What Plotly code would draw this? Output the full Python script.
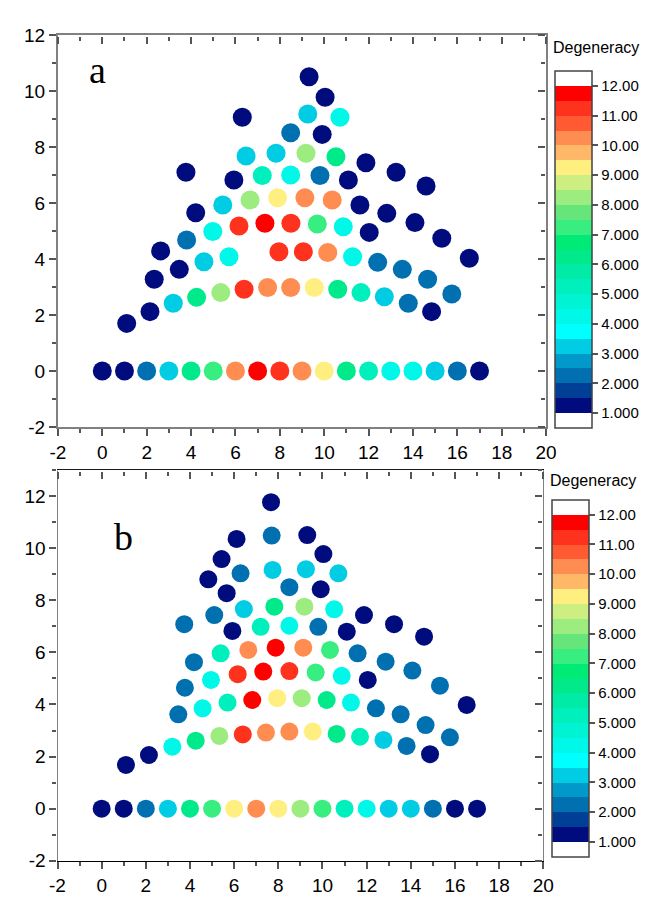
import plotly.graph_objects as go

# panel a points (x, y, degeneracy)
a_x = [9.32, 10.04, 6.31, 9.26, 10.71, 8.49, 9.91, 6.48, 7.83, 9.18, 10.53, 11.88, 13.24, 14.59,
       3.77, 5.93, 7.21, 8.49, 9.81, 11.09, 5.43, 6.66, 7.90, 9.13, 10.36, 11.61, 12.82, 14.09,
       15.30, 16.54, 4.21, 4.98, 6.16, 7.33, 8.50, 9.69, 10.86, 12.03, 3.80, 2.63,
       2.34, 3.47, 4.58, 5.71, 7.96, 9.06, 10.16, 11.28, 12.41, 13.52, 14.66, 15.75,
       1.10, 2.15, 3.20, 4.25, 5.34, 6.39, 7.45, 8.49, 9.55, 10.61, 11.66, 12.71, 13.79, 14.84,
       0, 1, 2, 3, 4, 5, 6, 7, 8, 9, 10, 11, 12, 13, 14, 15, 16, 17]
a_y = [10.51, 9.78, 9.06, 9.18, 9.06, 8.51, 8.45, 7.68, 7.78, 7.78, 7.65, 7.44, 7.10, 6.61,
       7.10, 6.82, 6.98, 7.00, 6.98, 6.82, 5.93, 6.11, 6.19, 6.19, 6.11, 5.93, 5.63, 5.30,
       4.74, 4.03, 5.65, 4.98, 5.18, 5.28, 5.28, 5.25, 5.15, 4.95, 4.68, 4.29,
       3.28, 3.63, 3.90, 4.08, 4.26, 4.26, 4.23, 4.08, 3.88, 3.63, 3.28, 2.75,
       1.70, 2.12, 2.42, 2.63, 2.80, 2.92, 2.98, 2.98, 2.98, 2.92, 2.80, 2.65, 2.42, 2.12,
       0, 0, 0, 0, 0, 0, 0, 0, 0, 0, 0, 0, 0, 0, 0, 0, 0, 0]
a_deg = [1, 1, 1, 3, 4, 2, 1, 3, 3, 8, 6, 1, 1, 1,
         1, 1, 5, 4, 2, 1, 3, 8, 9, 10, 10, 1, 1, 1,
         1, 1, 1, 4, 11, 12, 11, 7, 4, 1, 2, 1,
         1, 1, 3, 4, 11, 11, 10, 4, 2, 2, 2, 2,
         1, 1, 3, 6, 8, 11, 10, 10, 9, 6, 5, 3, 2, 1,
         1, 1, 2, 3, 6, 7, 10, 12, 11, 10, 9, 6, 5, 4, 4, 3, 2, 1]

# panel b points
b_x = [7.67, 7.70, 6.11, 9.31, 10.04, 5.43, 6.29, 7.74, 9.25, 10.72, 4.83, 5.66, 8.50, 9.92,
       3.74, 5.10, 6.44, 7.82, 9.18, 10.53, 11.88, 13.24, 14.60, 5.92, 7.20, 8.50, 9.81, 11.10,
       4.18, 5.39, 6.64, 7.88, 9.13, 10.34, 11.59, 12.86, 14.07, 15.32, 16.53,
       3.77, 4.95, 6.16, 7.32, 8.50, 9.69, 10.87, 12.05,
       3.47, 4.57, 5.70, 6.82, 7.95, 9.06, 10.19, 11.29, 12.42, 13.54, 14.67, 15.77,
       1.10, 2.14, 3.20, 4.26, 5.33, 6.39, 7.44, 8.50, 9.56, 10.64, 11.70, 12.76, 13.81, 14.87,
       0, 1, 2, 3, 4, 5, 6, 7, 8, 9, 10, 11, 12, 13, 14, 15, 16, 17]
b_y = [11.76, 10.48, 10.35, 10.50, 9.77, 9.58, 9.03, 9.16, 9.19, 9.03, 8.80, 8.27, 8.50, 8.42,
       7.08, 7.43, 7.66, 7.75, 7.75, 7.65, 7.43, 7.08, 6.60, 6.82, 6.98, 7.02, 6.98, 6.79,
       5.62, 5.96, 6.09, 6.18, 6.18, 6.09, 5.96, 5.64, 5.30, 4.72, 3.98,
       4.64, 4.94, 5.16, 5.26, 5.28, 5.23, 5.10, 4.94,
       3.62, 3.85, 4.07, 4.17, 4.24, 4.24, 4.17, 4.07, 3.85, 3.62, 3.21, 2.74,
       1.68, 2.06, 2.38, 2.61, 2.79, 2.85, 2.92, 2.96, 2.96, 2.87, 2.76, 2.64, 2.41, 2.09,
       0, 0, 0, 0, 0, 0, 0, 0, 0, 0, 0, 0, 0, 0, 0, 0, 0, 0]
b_deg = [1, 2, 1, 1, 1, 1, 2, 3, 3, 3, 1, 1, 2, 1,
         2, 2, 3, 6, 8, 4, 1, 1, 1, 1, 5, 4, 2, 1,
         2, 5, 10, 12, 10, 7, 2, 2, 2, 2, 1,
         2, 4, 11, 12, 11, 7, 4, 1,
         2, 4, 5, 12, 9, 8, 6, 4, 2, 2, 2, 2,
         1, 1, 4, 6, 8, 11, 10, 10, 9, 6, 5, 3, 2, 1,
         1, 1, 2, 3, 6, 7, 9, 10, 9, 8, 7, 5, 4, 3, 3, 2, 1, 1]

x_ticks = [-2, 0, 2, 4, 6, 8, 10, 12, 14, 16, 18, 20]
y_ticks = [-2, 0, 2, 4, 6, 8, 10, 12]

# colour bands of the legend, 1.0 to 12.0 in steps of 0.5
band_colors = ['#000c7d', '#003f96', '#0070b0', '#0099c9', '#00cce3', '#00ffff',
               '#00f8e8', '#00f4d4', '#00f0bd', '#00eca6', '#00ea8c', '#00eb76',
               '#38ee80', '#66e67a', '#9cec80', '#cdee80', '#ffee80', '#ffb868',
               '#ff8c50', '#ff5a32', '#ff321e', '#ff0000']
cbar_ticks = [1, 2, 3, 4, 5, 6, 7, 8, 9, 10, 11, 12]
cbar_text = ['1.000', '2.000', '3.000', '4.000', '5.000', '6.000', '7.000', '8.000',
             '9.000', '10.00', '11.00', '12.00']

# colorbar scale: white, 22 bands, white over 0.5..12.5
segs = ['#ffffff'] + band_colors + ['#ffffff']
cbar_scale = []
for i, c in enumerate(segs):
    cbar_scale.append([i / len(segs), c])
    cbar_scale.append([(i + 1) / len(segs), c])

# dot scale: integer value v -> band starting at v (12 -> top band)
dot_scale = []
for v in range(1, 13):
    c = band_colors[min(2 * (v - 1), 21)]
    dot_scale.append([(v - 1) / 12, c])
    dot_scale.append([v / 12, c])

FONT = 'Liberation Sans, Arial, sans-serif'
SERIF = 'Liberation Serif, Times New Roman, serif'

# page has an 8px body margin, figure is 656x907 inside the 664x915 window
W, H = 656, 907


def px(x):
    return (x - 8) / W


def py(y):
    return 1 - (y - 8) / H


fig = go.Figure()

fig.add_trace(go.Scatter(x=a_x, y=a_y, mode='markers', xaxis='x', yaxis='y',
                         marker=dict(size=19, color=a_deg, colorscale=dot_scale,
                                     cmin=0.5, cmax=12.5, line=dict(width=0)),
                         showlegend=False))
fig.add_trace(go.Scatter(x=b_x, y=b_y, mode='markers', xaxis='x2', yaxis='y2',
                         marker=dict(size=18, color=b_deg, colorscale=dot_scale,
                                     cmin=0.5, cmax=12.5, line=dict(width=0)),
                         showlegend=False))


def cbar(xpos, ypos):
    return dict(x=xpos, xanchor='left', y=ypos, yanchor='middle', xpad=0, ypad=0,
                thickness=37, thicknessmode='pixels', len=357, lenmode='pixels',
                outlinecolor='#444', outlinewidth=1.5,
                tickvals=cbar_ticks, ticktext=cbar_text, ticks='outside', ticklen=6,
                tickwidth=1.5, tickcolor='#555',
                tickfont=dict(family=FONT, size=15, color='black'))


# colour legends (empty traces on the tick-strip subplots)
fig.add_trace(go.Scatter(x=[None], y=[None], mode='markers', xaxis='x3', yaxis='y3',
                         marker=dict(color=[1], colorscale=cbar_scale, cmin=0.5, cmax=12.5,
                                     showscale=True, colorbar=cbar(px(555), py(249.4))),
                         showlegend=False, hoverinfo='skip'))
fig.add_trace(go.Scatter(x=[None], y=[None], mode='markers', xaxis='x4', yaxis='y4',
                         marker=dict(color=[1], colorscale=cbar_scale, cmin=0.5, cmax=12.5,
                                     showscale=True, colorbar=cbar(px(551.7), py(678.3))),
                         showlegend=False, hoverinfo='skip'))
for xs, ys in [('x5', 'y5'), ('x6', 'y6')]:
    fig.add_trace(go.Scatter(x=[None], y=[None], mode='markers', xaxis=xs, yaxis=ys,
                             showlegend=False, hoverinfo='skip'))

tickfont = dict(family=FONT, size=19, color='black')
TC = '#555'
minor = dict(tickmode='linear', tick0=0, dtick=1, ticks='outside', ticklen=4,
             tickwidth=1.5, tickcolor=TC)


def axis(dom, anchor, rng, ticks, lc, lw, side):
    return dict(domain=dom, anchor=anchor, range=rng, side=side,
                tickmode='array', tickvals=ticks, ticktext=[str(t) for t in ticks],
                showgrid=False, zeroline=False, showline=True, linecolor=lc, linewidth=lw,
                mirror=True, ticks='outside', ticklen=7, tickwidth=1.5, tickcolor=TC,
                tickfont=tickfont, automargin=False, minor=minor)


def tick_strip(dom, anchor, rng, side):
    # ticks only, pointing into the frame from the top / right edge
    return dict(domain=dom, anchor=anchor, range=rng, side=side, dtick=2, tick0=0,
                showgrid=False, zeroline=False, showline=False,
                ticks='outside', ticklen=7, tickwidth=1.5, tickcolor=TC,
                showticklabels=False, automargin=False, minor=minor)


def hidden(dom, anchor):
    return dict(domain=dom, anchor=anchor, range=[0, 1], showgrid=False, zeroline=False,
                showline=False, showticklabels=False, ticks='', automargin=False)


xa = [px(57.9), px(546.1)]
ya = [py(427), py(35)]
xb = [px(57.5), px(543.3)]
yb = [py(860.8), py(469.9)]


def label(text, x, y, font, xanchor='center'):
    return dict(text=text, x=px(x), y=py(y), xref='paper', yref='paper', showarrow=False,
                xanchor=xanchor, yanchor='middle', font=font)


serif_font = dict(family=SERIF, size=38, color='black')
title_font = dict(family=FONT, size=16, color='black')

fig.update_layout(
    width=W, height=H,
    margin=dict(l=0, r=0, t=0, b=0),
    paper_bgcolor='white', plot_bgcolor='white',
    xaxis=axis(xa, 'y', [-2, 20], x_ticks, '#808080', 2, 'bottom'),
    yaxis=axis(ya, 'x', [-2, 12], y_ticks, '#808080', 2, 'left'),
    xaxis2=axis(xb, 'y2', [-2, 20], x_ticks, 'black', 1.3, 'bottom'),
    yaxis2=axis(yb, 'x2', [-2, 13], y_ticks, '#808080', 1.3, 'left'),
    # top tick strips
    xaxis3=tick_strip(xa, 'y3', [-2, 20], 'bottom'),
    yaxis3=hidden([ya[1] - 0.001, ya[1]], 'x3'),
    xaxis4=tick_strip(xb, 'y4', [-2, 20], 'bottom'),
    yaxis4=hidden([yb[1] - 0.001, yb[1]], 'x4'),
    # right tick strips
    yaxis5=tick_strip(ya, 'x5', [-2, 12], 'left'),
    xaxis5=hidden([xa[1], xa[1] + 0.001], 'y5'),
    yaxis6=tick_strip(yb, 'x6', [-2, 13], 'left'),
    xaxis6=hidden([xb[1], xb[1] + 0.001], 'y6'),
    annotations=[
        label('a', 97.5, 70.4, serif_font),
        label('b', 123, 537.1, serif_font),
        label('Degeneracy', 551, 48, title_font, xanchor='left'),
        label('Degeneracy', 548, 480, title_font, xanchor='left'),
    ],
)

fig.write_html("out.html")
